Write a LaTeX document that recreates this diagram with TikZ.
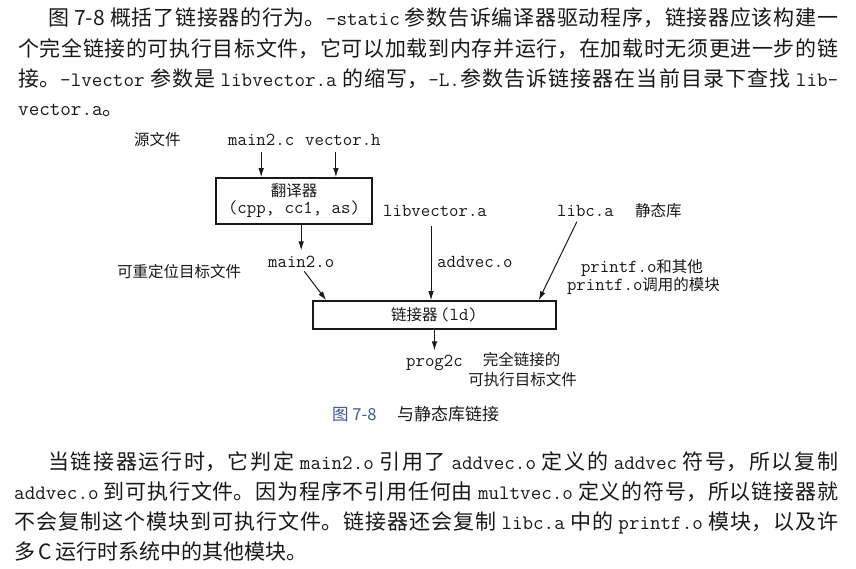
\documentclass[tikz,border=0pt]{standalone}
\usepackage{fontspec}
\setmainfont{Noto Sans CJK SC}
\usetikzlibrary{arrows.meta}
% allow justification glue between CJK characters
\XeTeXlinebreaklocale "zh"
\XeTeXlinebreakskip=0pt plus 4pt minus 0.3pt
\definecolor{capblue}{RGB}{62,84,168}
\definecolor{ink}{RGB}{25,25,25}
\newcommand\bodyfont{\fontsize{21}{30}\selectfont}
\newcommand\code[1]{{\ttfamily\fontsize{20.5}{30}\selectfont #1}}
\newcommand\dfont{\fontsize{15.5}{17}\selectfont}
\newcommand\dcode[1]{{\ttfamily\fontsize{18.3}{17}\selectfont #1}}
% end a line flush with the right margin
\newcommand\fullline{\parfillskip=0pt\relax\par}
\begin{document}
\begin{tikzpicture}[x=1pt,y=-1pt,
  every node/.style={inner sep=0pt, text=ink},
  bodyline/.style={anchor=base west, text width=#1, align=justify, font=\bodyfont},
  bodyend/.style={anchor=base west, font=\bodyfont},
  lbl/.style={anchor=base west, font=\dfont},
  clbl/.style={anchor=base, font=\dfont},
  stagebox/.style={draw=ink, line width=1.6pt, font=\dfont, align=center},
  arr/.style={draw=ink, line width=1pt, -{Latex[length=9pt,width=5.5pt]}}]
\useasboundingbox[fill=white] (0,0) rectangle (856,568);

% ---- paragraph above the figure ----
\node[bodyline=790pt] (t1) at (48,25) {图 7-8 概括了链接器的行为。\code{-static} 参数告诉编译器驱动程序，链接器应该构建一\fullline};
\node[bodyline=820pt] (t2) at (18,56) {个完全链接的可执行目标文件，它可以加载到内存并运行，在加载时无须更进一步的链\fullline};
\node[bodyline=820pt] (t3) at (18,86) {接。\code{-lvector} 参数是 \code{libvector.a} 的缩写，\code{-L.}参数告诉链接器在当前目录下查找 \code{lib-}\fullline};
\node[bodyend] (t4) at (18,115) {\code{vector.a}。};

% ---- figure: static linking ----
\node[lbl] (srclbl) at (134,145) {源文件};
\node[lbl] (m2c) at (228,145) {\dcode{main2.c}};
\node[lbl] (vech) at (305,145) {\dcode{vector.h}};

\node[stagebox, minimum width=156pt, minimum height=46pt] (trans) at (294,201)
  {翻译器\\\dcode{(cpp, cc1, as)}};

\node[lbl] (libv) at (383,216) {\dcode{libvector.a}};
\node[lbl] (libc) at (557,216) {\dcode{libc.a}};
\node[lbl] (staticlbl) at (635,216) {静态库};

\node[lbl] (relolbl) at (117,277) {可重定位目标文件};
\node[lbl] (m2o) at (268,267) {\dcode{main2.o}};
\node[lbl] (addv) at (437,267) {\dcode{addvec.o}};
\node[clbl] (pf1) at (642,272) {\dcode{printf.o}和其他};
\node[clbl] (pf2) at (643.5,290) {\dcode{printf.o}调用的模块};

\node[stagebox, minimum width=243pt, minimum height=28pt] (linker) at (434.5,315)
  {链接器\,\dcode{(ld)}};

\node[lbl] (prog) at (406,366) {\dcode{prog2c}};
\node[clbl] (exe1) at (521.5,365) {完全链接的};
\node[clbl] (exe2) at (522.5,385) {可执行目标文件};

% connectors
\draw[arr, shorten <=7pt] (m2c.south) -- (m2c.south |- trans.north);
\draw[arr, shorten <=7pt] ([xshift=-7pt]vech.south) -- ([xshift=-7pt]vech.south |- trans.north);
\draw[arr, shorten >=5pt] (trans.south -| m2o) -- (m2o.north);
\draw[arr, shorten <=5pt] (m2o.south) -- ([xshift=14pt]linker.north west);
\draw[arr, shorten <=10pt] ([xshift=-4pt]libv.south) -- ([xshift=-4pt]libv.south |- linker.north);
\draw[arr, shorten <=6pt] ([xshift=-6pt]libc.south) -- ([xshift=-18pt]linker.north east);
\draw[arr, shorten >=4pt] (linker.south -| prog) -- (prog.north);

% caption
\node[anchor=base west, font=\fontsize{16.5}{20}\selectfont, text=capblue] (capnum) at (332,420) {图 7-8};
\node[anchor=base west, font=\fontsize{17}{20}\selectfont] (captxt) at (397,420) {与静态库链接};

% ---- paragraph below the figure ----
\node[bodyline=790pt] (b1) at (48,469) {当链接器运行时，它判定 \code{main2.o} 引用了 \code{addvec.o} 定义的 \code{addvec} 符号，所以复制\fullline};
\node[bodyline=824pt] (b2) at (14,499) {\code{addvec.o} 到可执行文件。因为程序不引用任何由 \code{multvec.o} 定义的符号，所以链接器就\fullline};
\node[bodyline=824pt] (b3) at (14,529) {不会复制这个模块到可执行文件。链接器还会复制 \code{libc.a} 中的 \code{printf.o} 模块，以及许\fullline};
\node[bodyend] (b4) at (14,559) {多\,C\,运行时系统中的其他模块。};
\end{tikzpicture}
\end{document}
